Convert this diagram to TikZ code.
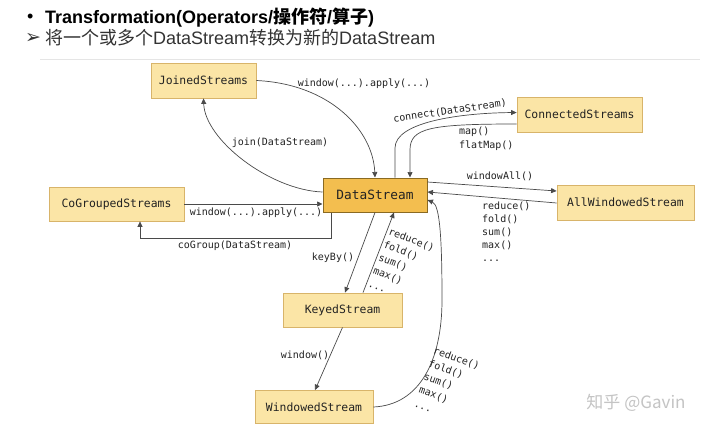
\documentclass[tikz,border=0pt]{standalone}
\usepackage{fontspec}
\setmainfont{Liberation Sans}
\newfontfamily\cjk{Noto Sans CJK SC}
\newfontfamily\mono{DejaVu Sans Mono}
\newfontfamily\dejavu{DejaVu Sans}
\usetikzlibrary{arrows.meta,calc}
\definecolor{boxfill}{HTML}{FBE5A6}
\definecolor{boxline}{HTML}{D8B46A}
\definecolor{dsfill}{HTML}{F3BE4F}
\definecolor{dsline}{HTML}{8A6A22}
\definecolor{edgecol}{HTML}{4A4A4A}
\definecolor{txt}{HTML}{222222}
\definecolor{hdrgray}{HTML}{333333}
\definecolor{wmark}{HTML}{C4C4C4}
\begin{document}
\begin{tikzpicture}[x=1pt,y=-1pt,
  stream/.style={draw=boxline, fill=boxfill, line width=0.8pt,
    font=\mono\fontsize{11.4}{13}\selectfont, text=txt, inner sep=0pt},
  mainstream/.style={draw=dsline, fill=dsfill, line width=1pt,
    font=\mono\fontsize{12.8}{14}\selectfont, text=txt, inner sep=0pt},
  conn/.style={draw=edgecol, line width=0.7pt, -{Triangle[length=5.5pt,width=5pt]}},
  lbl/.style={font=\mono\fontsize{10}{13}\selectfont, text=txt, inner sep=0pt},
  rlbl/.style={font=\mono\fontsize{10}{14}\selectfont, text=txt, inner sep=0pt, align=left, anchor=north west},
  hdr/.style={font=\fontsize{18}{20}\selectfont, inner sep=0pt, anchor=west},
]
\useasboundingbox (0,0) rectangle (720,434);
\fill[white] (0,0) rectangle (720,434);

% header
\node[hdr] (bul) at (27,18) {\textbullet};
\node[hdr] (h1) at (45,18) {\bfseries Transformation(Operators/{\cjk\bfseries 操作符}/{\cjk\bfseries 算子})};
\node[hdr, text=hdrgray] (arr) at (25,38.5) {\dejavu\fontsize{19}{21}\selectfont ➢};
\node[hdr, text=hdrgray] (h2) at (45,38) {{\cjk 将一个或多个}DataStream{\cjk 转换为新的}DataStream};
\draw[black!10, line width=0.6pt] (40,59) -- (700,59);

% nodes
\node[stream, minimum width=105pt, minimum height=35pt] (J) at (203.5,80.5) {JoinedStreams};
\node[stream, minimum width=125pt, minimum height=35pt] (C) at (579.5,114.5) {ConnectedStreams};
\node[mainstream, minimum width=104pt, minimum height=34pt] (D) at (375,195) {DataStream};
\node[stream, minimum width=137pt, minimum height=35pt] (A) at (625.5,202.5) {AllWindowedStream};
\node[stream, minimum width=135pt, minimum height=34pt] (G) at (116.5,204) {CoGroupedStreams};
\node[stream, minimum width=119pt, minimum height=34pt] (K) at (342.5,310) {KeyedStream};
\node[stream, minimum width=118pt, minimum height=33pt] (W) at (314,407) {WindowedStream};

% JoinedStreams <-> DataStream
\draw[conn] (J.east) .. controls (330,84) and (373,130) .. (D.north);
\node[lbl] (l1) at (364,84) {window(...).apply(...)};
\draw[conn] ([yshift=3pt]D.west) .. controls (270,190) and (205,140) .. (J.south);
\node[lbl] (l2) at (280,143) {join(DataStream)};

% ConnectedStreams
\draw[conn] ([xshift=20pt]D.north) -- (395,148) .. controls (395,122) and (460,113) .. ([yshift=2pt]C.west);
\node[lbl, rotate=8] (l3) at (450,111) {connect(DataStream)};
\draw[conn] ([yshift=-9.5pt]C.west) .. controls (430,124) and (410,128) .. (410,150) -- ([xshift=35pt]D.north);
\node[rlbl] (l4) at (459,126.5) {map()\\flatMap()};

% AllWindowedStream
\draw[conn] ([yshift=13pt]D.east) -- ([yshift=11.5pt]A.west);
\node[lbl] (l5) at (500,176) {windowAll()};
\draw[conn] ([yshift=-0.5pt]A.west) -- ([yshift=3pt]D.east);
\node[lbl, align=left, anchor=north west] (l6) at (482,201.5) {reduce()\\fold()\\sum()\\max()\\...};

% CoGroupedStreams
\draw[conn] (G.east) -- (G.east -| D.west);
\node[lbl] (l7) at (256,213) {window(...).apply(...)};
\draw[conn] ([xshift=-44pt]D.south) -- ++(0,26) -| ([xshift=23.5pt]G.south);
\node[lbl] (l8) at (235,246) {coGroup(DataStream)};

% KeyedStream
\draw[conn] (D.south) -- ([xshift=2.5pt]K.north);
\node[lbl] (l9) at (333,258) {keyBy()};
\draw[conn] ([xshift=20.5pt]K.north) -- ([xshift=19pt]D.south);
\node[rlbl, rotate=-21] (l10) at (390.4,227) {reduce()\\fold()\\sum()\\max()\\...};

% WindowedStream
\draw[conn] (K.south) -- ([xshift=1pt]W.north);
\node[lbl] (l11) at (305,355) {window()};
\draw[conn] (W.east) .. controls (420,405) and (442,360) .. (442,300) .. controls (442,240) and (440,205) .. ([yshift=-5pt]D.east);
\node[rlbl, rotate=-20] (l12) at (435.2,346) {reduce()\\fold()\\sum()\\max()\\...};

% watermark
\node[font=\cjk\fontsize{17}{19}\selectfont, text=wmark, inner sep=0pt] (wm) at (636,403) {知乎 @Gavin};
\end{tikzpicture}
\end{document}
